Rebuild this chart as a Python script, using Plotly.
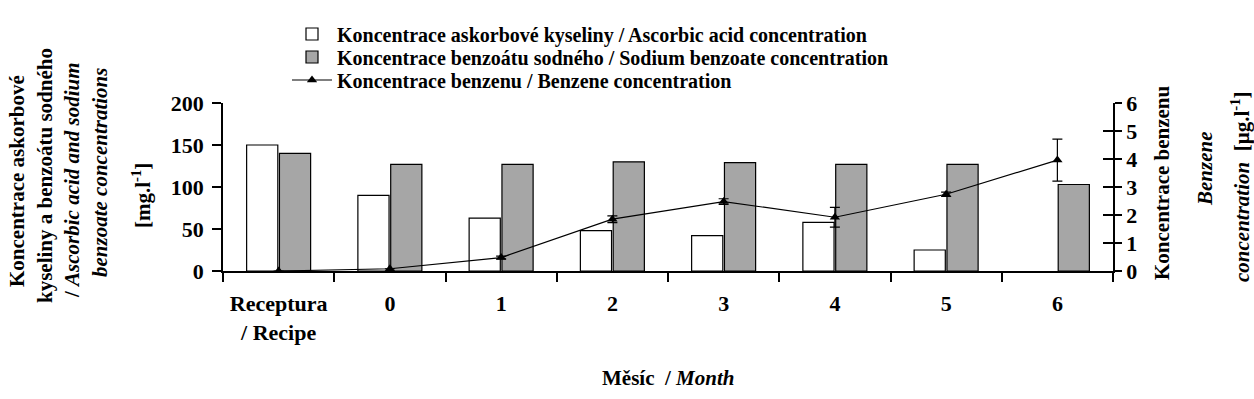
import plotly.graph_objects as go

categories = ["Receptura<br>/ Recipe", "0", "1", "2", "3", "4", "5", "6"]
ascorbic = [150, 90, 63, 48, 42, 58, 25, None]
benzoate = [140, 127, 127, 130, 129, 127, 127, 103]
benzene = [0.0, 0.08, 0.48, 1.85, 2.48, 1.92, 2.74, 3.96]
benzene_err = [0.0, 0.0, 0.05, 0.12, 0.1, 0.35, 0.08, 0.75]

FONT = "Liberation Serif"
L, R, T, B = 223, 141, 103, 128
W, H = 1254, 399
PW, PH = W - L - R, H - T - B

def px_x(px):
    return (px - L) / PW

def px_y(py):
    return (H - B - py) / PH

fig = go.Figure()
fig.add_trace(go.Bar(
    x=categories, y=ascorbic, name="Koncentrace askorbové kyseliny / Ascorbic acid concentration",
    marker=dict(color="white", line=dict(color="black", width=1.2)), yaxis="y", legend="legend"))
fig.add_trace(go.Bar(
    x=categories, y=benzoate, name="Koncentrace benzoátu sodného / Sodium benzoate concentration",
    marker=dict(color="#a6a6a6", line=dict(color="black", width=1.2)), yaxis="y", legend="legend2"))
fig.add_trace(go.Scatter(
    x=categories, y=benzene, name="Koncentrace benzenu / Benzene concentration",
    mode="lines+markers", yaxis="y2", legend="legend3",
    line=dict(color="black", width=1.2),
    marker=dict(symbol="triangle-up", size=9, color="black"),
    error_y=dict(type="data", array=benzene_err, visible=True, color="black", thickness=1.2, width=5)))
fig.add_trace(go.Scatter(x=categories, y=[None] * 8, yaxis="y3", showlegend=False, hoverinfo="skip"))

tickfont = dict(family=FONT, size=22, color="black", weight="bold")
legfont = dict(family=FONT, size=20, color="black", weight="bold")

def leg(py):
    return dict(x=px_x(287), y=px_y(py), xanchor="left", yanchor="middle",
                font=legfont, itemwidth=40, bgcolor="rgba(0,0,0,0)",
                borderwidth=0)

fig.update_layout(
    width=W, height=H,
    margin=dict(l=L, r=R, t=T, b=B, autoexpand=False),
    paper_bgcolor="white", plot_bgcolor="white",
    barmode="group", bargap=0.41, bargroupgap=0.05,
    font=dict(family=FONT, color="black"),
    showlegend=True,
    legend=leg(34), legend2=leg(57), legend3=leg(80),
    xaxis=dict(type="category", showline=True, linecolor="black", linewidth=1.5,
               ticks="outside", ticklen=9, tickcolor="black", tickwidth=1.5,
               tickson="boundaries", tickfont=tickfont, showgrid=False,
               ticklabelstandoff=12),
    yaxis=dict(range=[0, 200], dtick=50, showline=True, linecolor="black", linewidth=1.5,
               ticks="outside", ticklen=9, tickcolor="black", tickwidth=1.5,
               tickfont=tickfont, showgrid=False, zeroline=False, ticklabelstandoff=4),
    yaxis2=dict(range=[0, 6], dtick=1, overlaying="y", side="right", showline=True,
                linecolor="black", linewidth=1.5, ticks="outside", ticklen=7,
                tickcolor="black", tickwidth=1.5, tickfont=tickfont, showgrid=False, zeroline=False),
    yaxis3=dict(range=[0, 6], dtick=1, overlaying="y", side="right", showline=False,
                ticks="inside", ticklen=10, tickcolor="black", tickwidth=1.5,
                showticklabels=False, showgrid=False, zeroline=False),
)

ann_font = dict(family=FONT, size=21, color="black", weight="bold")
left_lines = [
    (17, 181, "Koncentrace askorbové"),
    (45, 176, "kyseliny a benzoátu sodného"),
    (72, 180, "/ <i>Ascorbic acid and sodium</i>"),
    (100, 173, "<i>benzoate concentrations</i>"),
    (141, 196, "[mg.l<sup>-1</sup>]"),
]
right_lines = [
    (1162, 183, "Koncentrace benzenu"),
    (1205, 169, "<i>Benzene</i>"),
    (1240, 187, "<i>concentration</i>  [µg.l<sup>-1</sup>]"),
]
for px, py, txt in left_lines + right_lines:
    fig.add_annotation(x=px_x(px), y=px_y(py), xref="paper", yref="paper", text=txt,
                       textangle=-90, showarrow=False, xanchor="center", yanchor="middle",
                       font=ann_font)

fig.add_annotation(x=px_x(668), y=px_y(378), xref="paper", yref="paper",
                   text="Měsíc  / <i>Month</i>", showarrow=False,
                   xanchor="center", yanchor="middle", font=ann_font)

fig.write_html("out.html", config={"displayModeBar": False},
               post_script="document.body.style.margin='0';")
